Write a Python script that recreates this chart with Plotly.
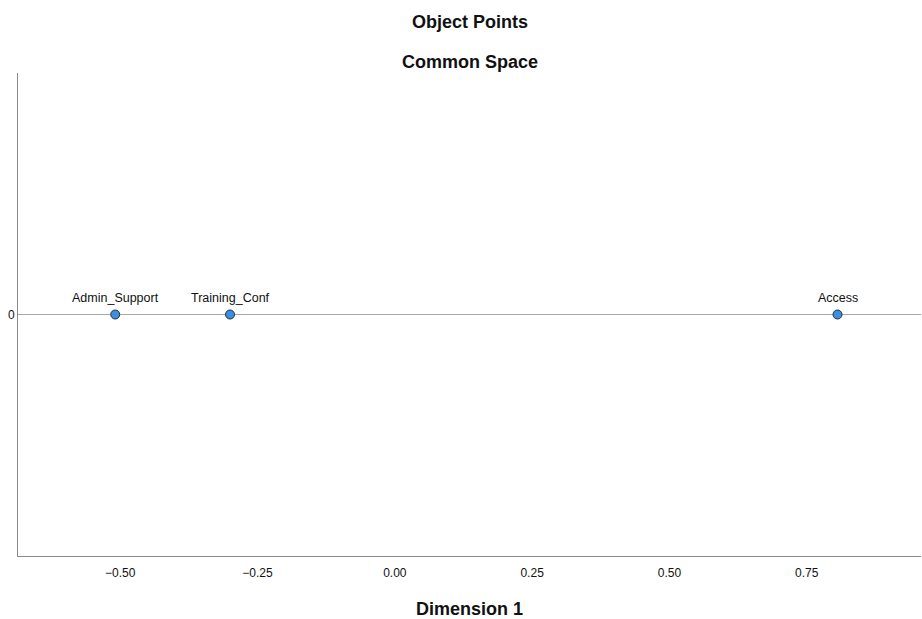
import plotly.graph_objects as go

labels = ["Admin_Support", "Training_Conf", "Access"]
dim1 = [-0.509, -0.300, 0.806]
dim2 = [0.0, 0.0, 0.0]
x_ticks = [-0.50, -0.25, 0.00, 0.25, 0.50, 0.75]
x_tick_text = ["\u22120.50", "\u22120.25", "0.00", "0.25", "0.50", "0.75"]

font_fam = "Liberation Sans, Arial, sans-serif"
L, R, T, B = 18, 1, 73, 63
W, H = 922, 619
plot_h = H - T - B

fig = go.Figure()
fig.add_trace(go.Scatter(
    x=dim1, y=dim2, mode="markers",
    marker=dict(size=9, color="#3d8fde", line=dict(color="#1f2f44", width=1)),
    hoverinfo="skip", showlegend=False, cliponaxis=False,
))

fig.add_hline(y=0, line=dict(color="#a8a8a8", width=1), layer="below")

anns = []
for lab, xv, yv in zip(labels, dim1, dim2):
    anns.append(dict(text=lab, x=xv, y=yv, xref="x", yref="y", showarrow=False,
                     yshift=17, font=dict(family=font_fam, size=12.5, color="#111")))

for txt, ypix in [("<b>Object Points</b>", 22), ("<b>Common Space</b>", 62)]:
    anns.append(dict(text=txt, x=0.5, y=1 + (T - ypix) / plot_h, xref="paper", yref="paper",
                     yanchor="middle", showarrow=False,
                     font=dict(family=font_fam, size=18, color="#111")))

fig.update_layout(
    width=W, height=H,
    margin=dict(l=L, r=R, t=T, b=B, autoexpand=False),
    paper_bgcolor="white", plot_bgcolor="white",
    xaxis=dict(range=[-0.686, 0.958], tickvals=x_ticks, ticktext=x_tick_text,
               showgrid=False, zeroline=False, showline=True, linecolor="#8a8a8a",
               linewidth=1, ticks="", ticklabelstandoff=6,
               tickfont=dict(family=font_fam, size=12, color="#111"),
               title=dict(text="<b>Dimension 1</b>", font=dict(family=font_fam, size=18, color="#111"), standoff=24)),
    yaxis=dict(range=[-1, 1], tickvals=[0], ticktext=["0"],
               showgrid=False, zeroline=False, showline=True, linecolor="#8a8a8a",
               linewidth=1, ticks="",
               tickfont=dict(family=font_fam, size=12, color="#111")),
    annotations=anns,
)

fig.write_html("out.html", config={"displayModeBar": False},
               post_script="document.body.style.margin='0';document.body.style.padding='0';")
